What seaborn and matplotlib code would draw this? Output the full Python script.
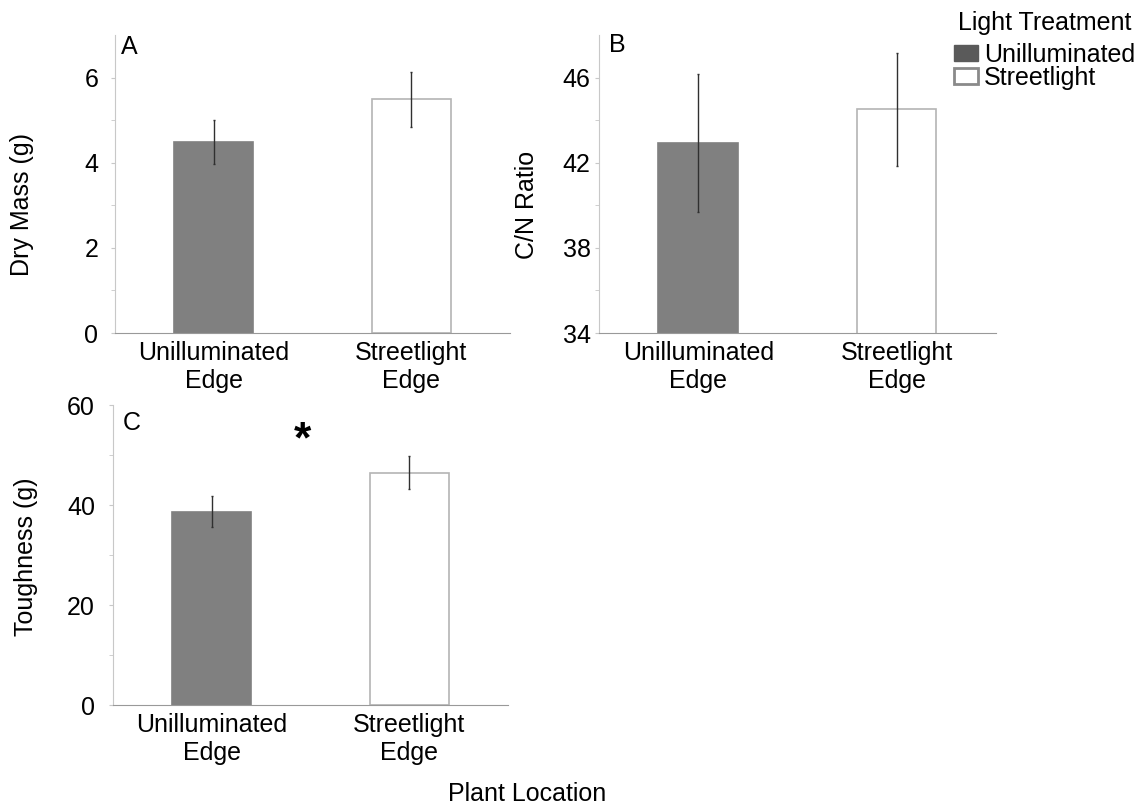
import seaborn as sns
import matplotlib.pyplot as plt
import pandas as pd
from matplotlib.patches import Patch

# datos
locations = ["Unilluminated\nEdge", "Streetlight\nEdge"]
treatments = ["Unilluminated", "Streetlight"]
dry_mass = [4.49, 5.49]
dry_mass_se = [0.51, 0.64]
cn_ratio = [42.93, 44.51]
cn_ratio_se = [3.24, 2.67]
toughness = [38.7, 46.5]
toughness_se = [3.05, 3.3]

dry_mass_ticks = [0, 2, 4, 6]
cn_ratio_ticks = [34, 38, 42, 46]
toughness_ticks = [0, 20, 40, 60]

sns.set_style("white")
plt.rcParams["font.family"] = ["Liberation Sans", "DejaVu Sans"]
plt.rcParams["font.size"] = 18
plt.rcParams["text.color"] = "black"
plt.rcParams["axes.labelcolor"] = "black"
plt.rcParams["xtick.labelcolor"] = "black"
plt.rcParams["ytick.labelcolor"] = "black"

bar_colors = {"Unilluminated": "#808080", "Streetlight": "white"}
edge_colors = {"Unilluminated": "#808080", "Streetlight": "#b4b4b4"}

fig = plt.figure(figsize=(11.45, 8.06), dpi=100)
ax_a = fig.add_axes([0.1004, 0.5868, 0.345, 0.3697])
ax_b = fig.add_axes([0.5231, 0.5868, 0.3467, 0.3697])
ax_c = fig.add_axes([0.0987, 0.1253, 0.345, 0.3722])


def panel(ax, values, errors, ylim, ticks, ylabel, letter, label_xy, letter_xy, ypad):
    df = pd.DataFrame({"location": locations, "treatment": treatments, "value": values})
    sns.barplot(data=df, x="location", y="value", hue="treatment", palette=bar_colors,
                hue_order=treatments, dodge=False, width=0.4, errorbar=None,
                legend=False, ax=ax)
    for cont, t in zip(ax.containers, treatments):
        for bar in cont:
            bar.set_edgecolor(edge_colors[t])
            bar.set_linewidth(1.2)
    ax.errorbar(x=[0, 1], y=values, yerr=errors, fmt="none", ecolor="#303030",
                elinewidth=1, capsize=1, capthick=1)
    ax.set_xlim(-0.5, 1.5)
    ax.set_ylim(*ylim)
    step = ticks[1] - ticks[0]
    ax.set_yticks(ticks)
    ax.set_yticks([t + step / 2 for t in ticks if t + step / 2 < ylim[1]], minor=True)
    ax.tick_params(axis="y", which="both", left=True, length=3, color="#c8c8c8",
                   labelsize=18, pad=ypad)
    ax.tick_params(axis="x", length=0, labelsize=18, pad=6)
    sns.despine(ax=ax)
    ax.spines["left"].set_color("#c8c8c8")
    ax.spines["bottom"].set_color("#999999")
    ax.set_xlabel("")
    ax.set_ylabel(ylabel, fontsize=18)
    ax.yaxis.set_label_coords(*label_xy)
    ax.text(letter_xy[0], letter_xy[1], letter, transform=ax.transAxes,
            fontsize=18, ha="left", va="center")


panel(ax_a, dry_mass, dry_mass_se, (0, 7), dry_mass_ticks, "Dry Mass (g)", "A",
      (-0.205, 0.433), (0.015, 0.96), 9)
panel(ax_b, cn_ratio, cn_ratio_se, (34, 48), cn_ratio_ticks, "C/N Ratio", "B",
      (-0.152, 0.43), (0.025, 0.966), 3)
panel(ax_c, toughness, toughness_se, (0, 60), toughness_ticks, "Toughness (g)", "C",
      (-0.19, 0.493), (0.025, 0.94), 10)

ax_c.text(0.46, 52.8, "*", fontsize=32, fontweight="bold", ha="center", va="center")

handles = [Patch(facecolor="#5a5a5a", edgecolor="#5a5a5a", label="Unilluminated"),
           Patch(facecolor="white", edgecolor="#8a8a8a", linewidth=2, label="Streetlight")]
fig.legend(handles=handles, loc="upper left", bbox_to_anchor=(954 / 1145, 1 - 43 / 806),
           frameon=False, fontsize=18, handlelength=0.95, handleheight=0.6,
           handletextpad=0.25, labelspacing=-0.05, borderpad=0, borderaxespad=0)
fig.text(958 / 1145, 1 - 23 / 806, "Light Treatment", fontsize=18, ha="left", va="center")

fig.text(527 / 1145, 1 - 794 / 806, "Plant Location", fontsize=18, ha="center", va="center")

plt.savefig("out.png", dpi=100)
